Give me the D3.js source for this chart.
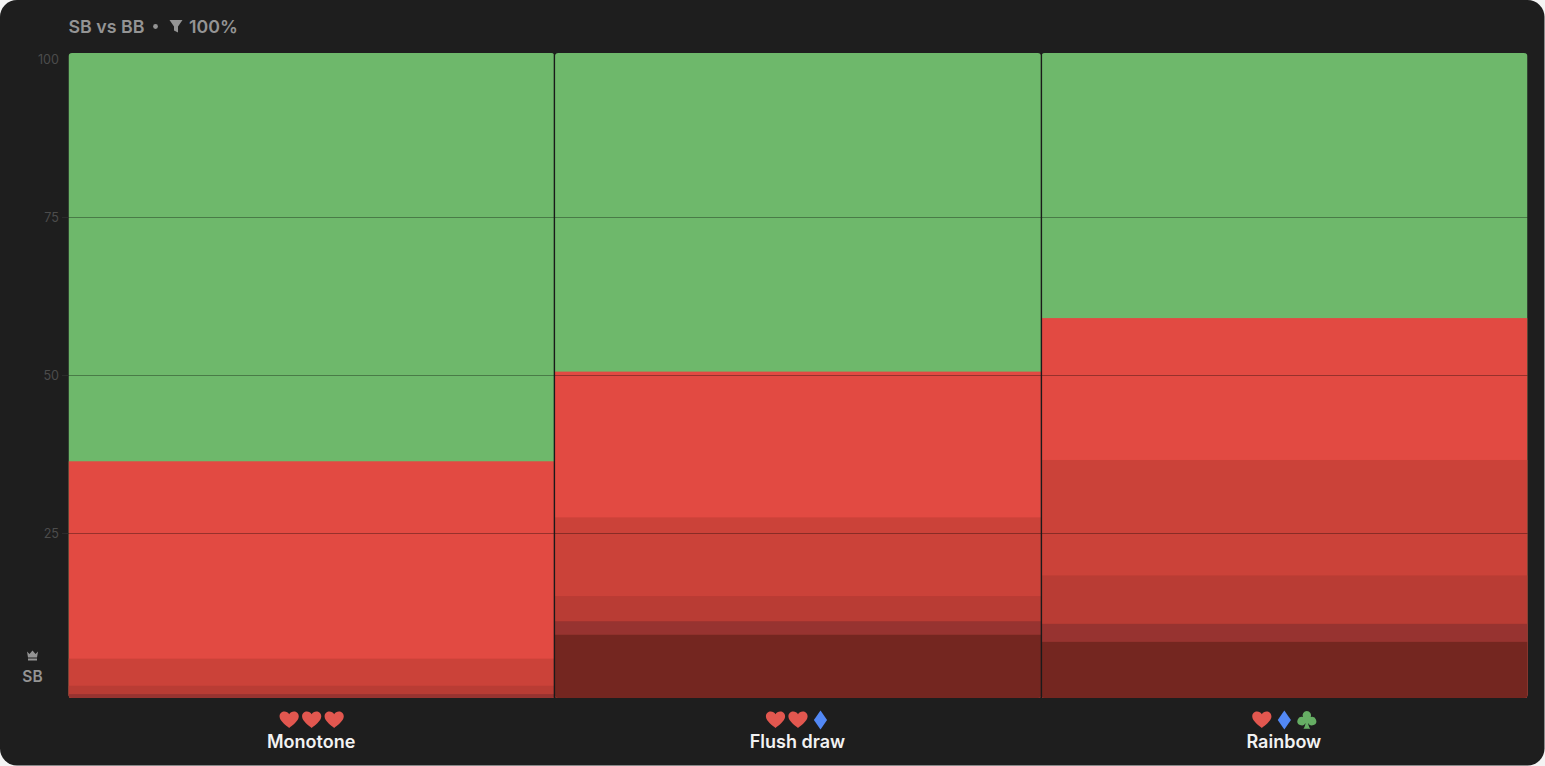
<!DOCTYPE html>
<html>
<head>
<meta charset="utf-8">
<script src="https://cdn.jsdelivr.net/npm/d3@7/dist/d3.min.js"></script>
<style>
html,body{margin:0;padding:0;background:#f4f4f4;overflow:hidden}
svg{display:block}
text{font-family:Inter,sans-serif}
</style>
</head>
<body>
<div id="chart"></div>
<script>
const categories = ["Monotone", "Flush draw", "Rainbow"];
const monotone = [0, 0.6, 1.3, 4.2, 30.6, 63.3];
const flushDraw = [9.8, 2.1, 3.9, 12.2, 22.6, 49.4];
const rainbow = [8.7, 2.8, 7.5, 17.9, 22, 41.1];
const bandColors = ["#742620", "#973330", "#b93c34", "#cb4239", "#e24a42", "#6eb86b"];
const tickValues = [25, 50, 75, 100];
const gridValues = [25, 50, 75];
const suits = [["heart","heart","heart"],["heart","heart","diamond"],["heart","diamond","club"]];
const suitColors = {heart:"#e2574f", diamond:"#5288f5", club:"#66ae64"};
const suitPaths = {
 heart:"M0 8C-2.4 5.8-9.6 1.2-9.6-3.5-9.6-6.6-7.2-8.4-4.8-8.4-2.7-8.4-1-7.3 0-5.8 1-7.3 2.7-8.4 4.8-8.4 7.2-8.4 9.6-6.6 9.6-3.5 9.6 1.2 2.4 5.8 0 8Z",
 diamond:"M0-9.5 6.6 0 0 9.5-6.6 0Z",
 club:"M0-9A4.3 4.3 0 0 1 3.9-3 4.3 4.3 0 1 1 1.3 3C1.5 5.2 2.2 7 3.4 8.8H-3.4C-2.2 7-1.5 5.2-1.3 3A4.3 4.3 0 1 1-3.9-3 4.3 4.3 0 0 1 0-9Z"
};
const W = 1545, H = 766;
const svg = d3.select("#chart").append("svg").attr("width", W).attr("height", H);
svg.append("rect").attr("x",0).attr("y",0).attr("width",1544.5).attr("height",765.5).attr("rx",17).attr("fill","#1e1e1e");

const x = d3.scaleBand().domain(categories).range([68.5,1527.5]).padding(0);
const yBar = d3.scaleLinear().domain([0,100]).range([698,53]);
const yAxis = d3.scaleLinear().domain([0,100]).range([691,59]);

const rows = [monotone, flushDraw, rainbow];
const defs = svg.append("defs");
categories.forEach((c,i)=>{
  defs.append("clipPath").attr("id","clip"+i).append("rect")
    .attr("x",x(c)).attr("y",yBar(100)).attr("width",x.bandwidth()).attr("height",yBar(0)-yBar(100)).attr("rx",3.5);
  const g = svg.append("g").attr("clip-path",`url(#clip${i})`);
  const cum = d3.cumsum(rows[i]);
  // each band reaches down to the base and the lower bands paint over it, so no seams show
  const items = rows[i].map((v,j)=>({top:cum[j],color:bandColors[j]})).reverse();
  g.selectAll("rect").data(items).join("rect")
    .attr("x",x(c)).attr("width",x.bandwidth())
    .attr("y",d=>yBar(d.top))
    .attr("height",d=>yBar(0)-yBar(d.top))
    .attr("fill",d=>d.color);
});
// gridlines and faint ticks
svg.append("g").selectAll("line").data(gridValues).join("line")
  .attr("x1",68.5).attr("x2",1527.5).attr("y1",d=>Math.round(yAxis(d))+.5).attr("y2",d=>Math.round(yAxis(d))+.5)
  .attr("stroke","#000").attr("stroke-opacity",.33);
svg.append("g").selectAll("line").data(gridValues).join("line")
  .attr("x1",62).attr("x2",68.5).attr("y1",d=>Math.round(yAxis(d))+.5).attr("y2",d=>Math.round(yAxis(d))+.5)
  .attr("stroke","#2b2b2b");
// separators
svg.append("g").selectAll("line").data(categories.slice(1)).join("line")
  .attr("x1",d=>Math.floor(x(d))+.4).attr("x2",d=>Math.floor(x(d))+.4).attr("y1",53).attr("y2",698)
  .attr("stroke","#1a1a1a").attr("stroke-width",1.4);
// y labels
svg.append("g").selectAll("text").data(tickValues).join("text")
  .attr("x",59).attr("y",d=>yAxis(d)+4.5).attr("text-anchor","end").attr("font-size",12.6).attr("fill","#4c4c4c").text(d=>d);
// title
const hdr = svg.append("g").attr("fill","#949494").attr("font-weight",600).attr("font-size",17.8);
hdr.append("text").attr("x",68.5).attr("y",32.5).text("SB vs BB");
hdr.append("circle").attr("cx",155.5).attr("cy",26.5).attr("r",2.4);
hdr.append("path").attr("d","M169.5 20H182.5L178 26.5V32.5L174 30.5V26.5Z");
hdr.append("text").attr("x",189).attr("y",32.5).text("100%");
// SB
svg.append("path").attr("fill","#949494").attr("d","M27 651.5 29.5 654 32.5 650.5 35.5 654 38 651.5 37 657.5H28ZM28 658.5H37V660.5H28Z");
svg.append("text").attr("x",32.5).attr("y",681.5).attr("text-anchor","middle").attr("font-size",15.5).attr("font-weight",600).attr("fill","#949494").text("SB");
// categories
categories.forEach((c,i)=>{
  const cx = x(c)+x.bandwidth()/2;
  svg.append("text").attr("x",cx-.5).attr("y",747.5).attr("text-anchor","middle").attr("font-size",18).attr("font-weight",600).attr("fill","#f2f2f2").text(c);
  suits[i].forEach((s,j)=>{
    svg.append("path").attr("d",suitPaths[s]).attr("fill",suitColors[s]).attr("transform",`translate(${cx+(j-1)*22.5},720)`);
  });
});
</script>
</body>
</html>
